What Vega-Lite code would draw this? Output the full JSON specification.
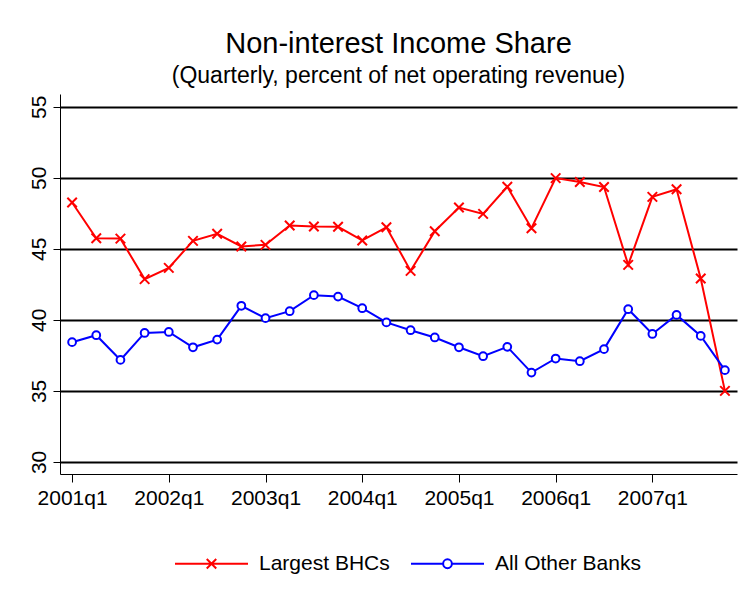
{
  "$schema": "https://vega.github.io/schema/vega-lite/v6.json",
  "width": 677,
  "height": 380,
  "autosize": {"type": "none"},
  "padding": {"left": 60, "top": 94, "right": 14, "bottom": 137},
  "background": "white",
  "title": {
    "text": "Non-interest Income Share",
    "subtitle": "(Quarterly, percent of net operating revenue)",
    "anchor": "middle",
    "font": "Liberation Sans",
    "fontSize": 29,
    "fontWeight": "normal",
    "color": "black",
    "subtitleFont": "Liberation Sans",
    "subtitleFontSize": 23,
    "subtitleColor": "black",
    "subtitlePadding": 6,
    "offset": 6
  },
  "data": {
    "values": [
      {"quarter": "2001q1", "series": "Largest BHCs", "value": 48.26},
      {"quarter": "2001q2", "series": "Largest BHCs", "value": 45.75},
      {"quarter": "2001q3", "series": "Largest BHCs", "value": 45.72},
      {"quarter": "2001q4", "series": "Largest BHCs", "value": 42.87},
      {"quarter": "2002q1", "series": "Largest BHCs", "value": 43.66},
      {"quarter": "2002q2", "series": "Largest BHCs", "value": 45.56},
      {"quarter": "2002q3", "series": "Largest BHCs", "value": 46.06},
      {"quarter": "2002q4", "series": "Largest BHCs", "value": 45.17},
      {"quarter": "2003q1", "series": "Largest BHCs", "value": 45.28},
      {"quarter": "2003q2", "series": "Largest BHCs", "value": 46.64},
      {"quarter": "2003q3", "series": "Largest BHCs", "value": 46.57},
      {"quarter": "2003q4", "series": "Largest BHCs", "value": 46.55},
      {"quarter": "2004q1", "series": "Largest BHCs", "value": 45.59},
      {"quarter": "2004q2", "series": "Largest BHCs", "value": 46.52},
      {"quarter": "2004q3", "series": "Largest BHCs", "value": 43.45},
      {"quarter": "2004q4", "series": "Largest BHCs", "value": 46.24},
      {"quarter": "2005q1", "series": "Largest BHCs", "value": 47.91},
      {"quarter": "2005q2", "series": "Largest BHCs", "value": 47.46},
      {"quarter": "2005q3", "series": "Largest BHCs", "value": 49.37},
      {"quarter": "2005q4", "series": "Largest BHCs", "value": 46.45},
      {"quarter": "2006q1", "series": "Largest BHCs", "value": 49.98},
      {"quarter": "2006q2", "series": "Largest BHCs", "value": 49.7},
      {"quarter": "2006q3", "series": "Largest BHCs", "value": 49.35},
      {"quarter": "2006q4", "series": "Largest BHCs", "value": 43.87},
      {"quarter": "2007q1", "series": "Largest BHCs", "value": 48.66},
      {"quarter": "2007q2", "series": "Largest BHCs", "value": 49.2},
      {"quarter": "2007q3", "series": "Largest BHCs", "value": 42.91},
      {"quarter": "2007q4", "series": "Largest BHCs", "value": 35.0},
      {"quarter": "2001q1", "series": "All Other Banks", "value": 38.43},
      {"quarter": "2001q2", "series": "All Other Banks", "value": 38.92},
      {"quarter": "2001q3", "series": "All Other Banks", "value": 37.18},
      {"quarter": "2001q4", "series": "All Other Banks", "value": 39.08},
      {"quarter": "2002q1", "series": "All Other Banks", "value": 39.15},
      {"quarter": "2002q2", "series": "All Other Banks", "value": 38.07},
      {"quarter": "2002q3", "series": "All Other Banks", "value": 38.61},
      {"quarter": "2002q4", "series": "All Other Banks", "value": 40.99},
      {"quarter": "2003q1", "series": "All Other Banks", "value": 40.12},
      {"quarter": "2003q2", "series": "All Other Banks", "value": 40.61},
      {"quarter": "2003q3", "series": "All Other Banks", "value": 41.74},
      {"quarter": "2003q4", "series": "All Other Banks", "value": 41.64},
      {"quarter": "2004q1", "series": "All Other Banks", "value": 40.82},
      {"quarter": "2004q2", "series": "All Other Banks", "value": 39.82},
      {"quarter": "2004q3", "series": "All Other Banks", "value": 39.27},
      {"quarter": "2004q4", "series": "All Other Banks", "value": 38.76},
      {"quarter": "2005q1", "series": "All Other Banks", "value": 38.07},
      {"quarter": "2005q2", "series": "All Other Banks", "value": 37.44},
      {"quarter": "2005q3", "series": "All Other Banks", "value": 38.1},
      {"quarter": "2005q4", "series": "All Other Banks", "value": 36.29},
      {"quarter": "2006q1", "series": "All Other Banks", "value": 37.28},
      {"quarter": "2006q2", "series": "All Other Banks", "value": 37.09},
      {"quarter": "2006q3", "series": "All Other Banks", "value": 37.94},
      {"quarter": "2006q4", "series": "All Other Banks", "value": 40.75},
      {"quarter": "2007q1", "series": "All Other Banks", "value": 39.01},
      {"quarter": "2007q2", "series": "All Other Banks", "value": 40.35},
      {"quarter": "2007q3", "series": "All Other Banks", "value": 38.87},
      {"quarter": "2007q4", "series": "All Other Banks", "value": 36.46}
    ]
  },
  "encoding": {
    "x": {
      "field": "quarter",
      "type": "ordinal",
      "sort": null,
      "scale": {"type": "point", "padding": 0.5},
      "axis": {
        "values": ["2001q1", "2002q1", "2003q1", "2004q1", "2005q1", "2006q1", "2007q1"],
        "title": null,
        "labelAngle": 0,
        "grid": false,
        "tickSize": 8,
        "labelPadding": 5
      }
    },
    "y": {
      "field": "value",
      "type": "quantitative",
      "scale": {"domain": [29.15, 55.9], "nice": false, "zero": false},
      "axis": {
        "values": [30, 35, 40, 45, 50, 55],
        "title": null,
        "grid": true,
        "gridColor": "black",
        "gridWidth": 2,
        "gridOpacity": 1,
        "tickSize": 7,
        "labelPadding": 8,
        "labelAngle": 270,
        "labelAlign": "center",
        "labelBaseline": "alphabetic"
      }
    },
    "color": {
      "field": "series",
      "type": "nominal",
      "scale": {"domain": ["Largest BHCs", "All Other Banks"], "range": ["#ff0000", "#0000ff"]},
      "legend": {
        "orient": "none",
        "legendX": 114,
        "legendY": 432,
        "direction": "horizontal",
        "title": null,
        "symbolSize": 5329,
        "symbolStrokeWidth": 2,
        "symbolOpacity": 1,
        "symbolFillColor": "white",
        "labelFont": "Liberation Sans",
        "labelFontSize": 21,
        "labelColor": "black",
        "labelOffset": 10,
        "columnPadding": 17,
        "padding": 0
      }
    }
  },
  "layer": [
    {
      "mark": {"type": "line", "strokeWidth": 2}
    },
    {
      "transform": [{"filter": "datum.series === 'Largest BHCs'"}],
      "mark": {"type": "point", "filled": false, "opacity": 1, "strokeWidth": 2, "shape": "M-1,-1L1,1M-1,1L1,-1", "size": 90}
    },
    {
      "transform": [{"filter": "datum.series === 'All Other Banks'"}],
      "mark": {"type": "point", "filled": false, "opacity": 1, "fill": "white", "fillOpacity": 1, "strokeWidth": 2, "shape": "circle", "size": 60}
    },
    {
      "mark": {"type": "point", "filled": false, "strokeWidth": 2, "opacity": 0},
      "encoding": {
        "shape": {
          "field": "series",
          "type": "nominal",
          "scale": {
            "domain": ["Largest BHCs", "All Other Banks"],
            "range": [
              "M-1,0L1,0M-0.13,-0.13L0.13,0.13M-0.13,0.13L0.13,-0.13",
              "M-1,0L-0.12,0M0.12,0L1,0M0.12,0A0.12,0.12,0,1,1,-0.12,0A0.12,0.12,0,1,1,0.12,0"
            ]
          },
          "legend": {
            "orient": "none",
            "legendX": 114,
            "legendY": 432,
            "direction": "horizontal",
            "title": null,
            "symbolSize": 5329,
            "symbolStrokeWidth": 2,
            "symbolOpacity": 1,
            "symbolFillColor": "white",
            "labelFont": "Liberation Sans",
            "labelFontSize": 21,
            "labelColor": "black",
            "labelOffset": 10,
            "columnPadding": 17,
            "padding": 0
          }
        }
      }
    }
  ],
  "config": {
    "view": {"stroke": null},
    "axis": {
      "labelFont": "Liberation Sans",
      "labelFontSize": 21,
      "labelColor": "black",
      "domainColor": "black",
      "domainWidth": 1,
      "tickColor": "black",
      "tickWidth": 1
    }
  }
}
